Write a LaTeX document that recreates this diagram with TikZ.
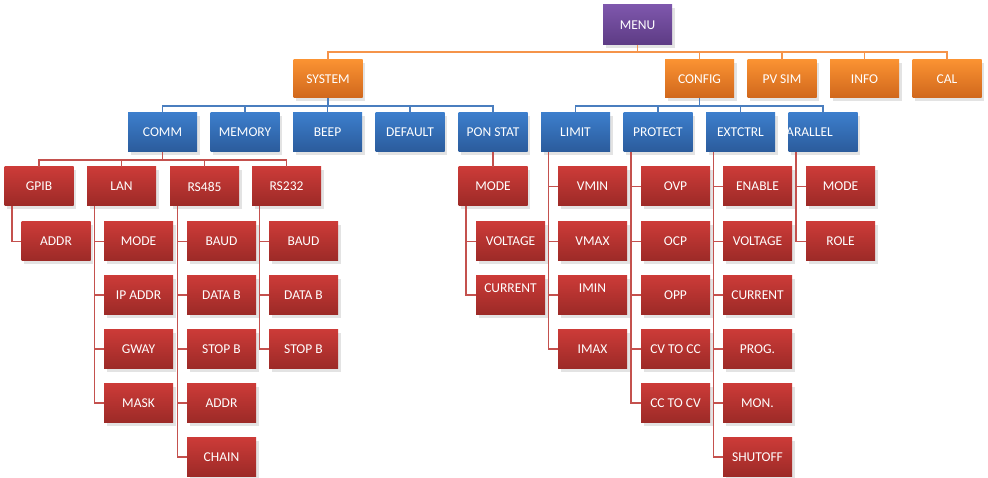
\documentclass[tikz,border=0pt]{standalone}
\usepackage{fontspec}
\setmainfont{Carlito}
\usetikzlibrary{shadows}
\definecolor{orline}{HTML}{F5944A}
\definecolor{blline}{HTML}{4A7EBF}
\definecolor{rdline}{HTML}{C4514E}
\definecolor{violetTop}{HTML}{7E57AC}
\definecolor{violetBot}{HTML}{5D3B84}
\definecolor{orangeTop}{HTML}{FA9232}
\definecolor{orangeBot}{HTML}{D0671C}
\definecolor{blueTop}{HTML}{3C7ECC}
\definecolor{blueBot}{HTML}{2B5B9B}
\definecolor{redTop}{HTML}{CC3B38}
\definecolor{redBot}{HTML}{9C2A27}
\tikzset{
  box/.style={rectangle,minimum width=69pt,minimum height=39pt,inner sep=0pt,text=white,
    font=\fontsize{13.5}{15}\selectfont,drop shadow={opacity=0.22,shadow xshift=2.5pt,shadow yshift=-3.5pt}},
  pur/.style={box,minimum height=40pt,top color=violetTop,bottom color=violetBot},
  org/.style={box,minimum height=38pt,top color=orangeTop,bottom color=orangeBot},
  blu/.style={box,top color=blueTop,bottom color=blueBot},
  red/.style={box,top color=redTop,bottom color=redBot},
  raised/.style={text depth=14pt},
  orln/.style={draw=orline,line width=1.8pt},
  blln/.style={draw=blline,line width=1.8pt},
  rdln/.style={draw=rdline,line width=1.6pt}
}
\begin{document}
\begin{tikzpicture}[x=1pt,y=-1pt]
        \useasboundingbox (0,0) rectangle (988,478);
        \node[pur] (menu) at (637.5,25) {MENU};
        \node[org] (system) at (328,79) {SYSTEM};
        \node[org] (config) at (699.5,79) {CONFIG};
        \node[org] (pvsim) at (782,79) {PV SIM};
        \node[org] (info) at (864.5,79) {INFO};
        \node[org] (cal) at (947,79) {CAL};
        \node[blu] (comm) at (162.5,132.5) {COMM};
        \node[blu] (memory) at (245,132.5) {MEMORY};
        \node[blu] (beep) at (327.5,132.5) {BEEP};
        \node[blu] (default) at (410,132.5) {DEFAULT};
        \node[blu] (ponstat) at (493,132.5) {PON STAT};
        \node[blu] (limit) at (575.5,132.5) {LIMIT};
        \node[blu] (protect) at (658,132.5) {PROTECT};
        \node[blu] (extctrl) at (740.5,132.5) {EXTCTRL};
        \node[blu] (parallel) at (823,132.5) {\hspace*{-33pt}PARALLEL};
        \node[red] (gpib) at (39,186.5) {GPIB};
        \node[red] (lan) at (121.5,186.5) {LAN};
        \node[red] (rsfive) at (204.5,186.5) {RS485};
        \node[red] (rstwo) at (286.5,186.5) {RS232};
        \node[red] (gpibaddr) at (56,241.5) {ADDR};
        \node[red] (lanmode) at (138.5,241.5) {MODE};
        \node[red] (lanip) at (138.5,295) {IP ADDR};
        \node[red] (langway) at (138.5,349) {GWAY};
        \node[red] (lanmask) at (138.5,403) {MASK};
        \node[red] (rsfbaud) at (221.5,241.5) {BAUD};
        \node[red] (rsfdata) at (221.5,295) {DATA B};
        \node[red] (rsfstop) at (221.5,349) {STOP B};
        \node[red] (rsfaddr) at (221.5,403) {ADDR};
        \node[red] (rsfchain) at (221.5,457) {CHAIN};
        \node[red] (rstbaud) at (303.5,241.5) {BAUD};
        \node[red] (rstdata) at (303.5,295) {DATA B};
        \node[red] (rststop) at (303.5,349) {STOP B};
        \node[red] (psmode) at (493,186.5) {MODE};
        \node[red] (psvolt) at (510.5,241.5) {VOLTAGE};
        \node[red,raised] (pscurr) at (510.5,295) {CURRENT};
        \node[red] (vmin) at (592.5,186.5) {VMIN};
        \node[red] (vmax) at (592.5,241.5) {VMAX};
        \node[red,raised] (imin) at (592.5,295) {IMIN};
        \node[red] (imax) at (592.5,349) {IMAX};
        \node[red] (ovp) at (675.5,186.5) {OVP};
        \node[red] (ocp) at (675.5,241.5) {OCP};
        \node[red] (opp) at (675.5,295) {OPP};
        \node[red] (cvcc) at (675.5,349) {CV TO CC};
        \node[red] (cccv) at (675.5,403) {CC TO CV};
        \node[red] (enable) at (757.5,186.5) {ENABLE};
        \node[red] (exvolt) at (757.5,241.5) {VOLTAGE};
        \node[red] (excurr) at (757.5,295) {CURRENT};
        \node[red] (prog) at (757.5,349) {PROG.};
        \node[red] (mon) at (757.5,403) {MON.};
        \node[red] (shutoff) at (757.5,457) {SHUTOFF};
        \node[red] (pmode) at (840.5,186.5) {MODE};
        \node[red] (prole) at (840.5,241.5) {ROLE};
        \draw[orln] (menu.south) -- ++(0,7) -| (system.north) (menu.south) -- ++(0,7) -| (config.north) (menu.south) -- ++(0,7) -| (pvsim.north) (menu.south) -- ++(0,7) -| (info.north) (menu.south) -- ++(0,7) -| (cal.north);
        \draw[blln] (system.south) -- ++(0,8) -| (comm.north) (system.south) -- ++(0,8) -| (memory.north) (system.south) -- ++(0,8) -| (beep.north) (system.south) -- ++(0,8) -| (default.north) (system.south) -- ++(0,8) -| (ponstat.north);
        \draw[blln] (config.south) -- ++(0,8) -| (limit.north) (config.south) -- ++(0,8) -| (protect.north) (config.south) -- ++(0,8) -| (extctrl.north) (config.south) -- ++(0,8) -| (parallel.north);
        \draw[rdln] (comm.south) -- ++(0,8) -| (gpib.north) (comm.south) -- ++(0,8) -| (lan.north) (comm.south) -- ++(0,8) -| (rsfive.north) (comm.south) -- ++(0,8) -| (rstwo.north);
        \draw[rdln] (ponstat.south) -- (psmode.north);
        \draw[rdln] ([xshift=7.5pt]gpib.south west) |- (gpibaddr.west);
        \draw[rdln] ([xshift=7.5pt]lan.south west) |- (lanmode.west) ([xshift=7.5pt]lan.south west) |- (lanip.west) ([xshift=7.5pt]lan.south west) |- (langway.west) ([xshift=7.5pt]lan.south west) |- (lanmask.west);
        \draw[rdln] ([xshift=7.5pt]rsfive.south west) |- (rsfbaud.west) ([xshift=7.5pt]rsfive.south west) |- (rsfdata.west) ([xshift=7.5pt]rsfive.south west) |- (rsfstop.west) ([xshift=7.5pt]rsfive.south west) |- (rsfaddr.west) ([xshift=7.5pt]rsfive.south west) |- (rsfchain.west);
        \draw[rdln] ([xshift=7.5pt]rstwo.south west) |- (rstbaud.west) ([xshift=7.5pt]rstwo.south west) |- (rstdata.west) ([xshift=7.5pt]rstwo.south west) |- (rststop.west);
        \draw[rdln] ([xshift=7.5pt]psmode.south west) |- (psvolt.west) ([xshift=7.5pt]psmode.south west) |- (pscurr.west);
        \draw[rdln] ([xshift=7.5pt]limit.south west) |- (vmin.west) ([xshift=7.5pt]limit.south west) |- (vmax.west) ([xshift=7.5pt]limit.south west) |- (imin.west) ([xshift=7.5pt]limit.south west) |- (imax.west);
        \draw[rdln] ([xshift=7.5pt]protect.south west) |- (ovp.west) ([xshift=7.5pt]protect.south west) |- (ocp.west) ([xshift=7.5pt]protect.south west) |- (opp.west) ([xshift=7.5pt]protect.south west) |- (cvcc.west) ([xshift=7.5pt]protect.south west) |- (cccv.west);
        \draw[rdln] ([xshift=7.5pt]extctrl.south west) |- (enable.west) ([xshift=7.5pt]extctrl.south west) |- (exvolt.west) ([xshift=7.5pt]extctrl.south west) |- (excurr.west) ([xshift=7.5pt]extctrl.south west) |- (prog.west) ([xshift=7.5pt]extctrl.south west) |- (mon.west) ([xshift=7.5pt]extctrl.south west) |- (shutoff.west);
        \draw[rdln] ([xshift=7.5pt]parallel.south west) |- (pmode.west) ([xshift=7.5pt]parallel.south west) |- (prole.west);
        \end{tikzpicture}
\end{document}
